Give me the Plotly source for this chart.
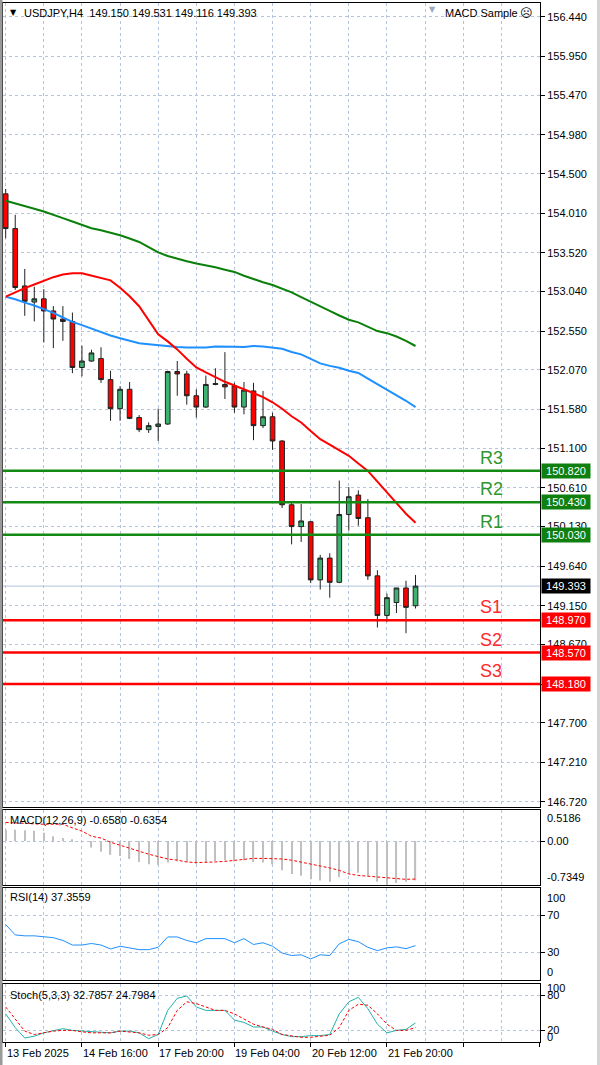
import plotly.graph_objects as go

# ---------------- data ----------------
bars = list(range(44))
opens = [154.25, 153.82, 153.11, 152.91, 152.95, 152.80, 152.70, 152.67, 152.10, 152.18,
         152.21, 151.95, 151.59, 151.83, 151.48, 151.33, 151.37, 151.40, 152.05, 152.02,
         151.75, 151.61, 151.89, 151.89, 151.87, 151.61, 151.81, 151.38, 151.49, 151.19,
         150.40, 150.13, 150.19, 149.47, 149.74, 149.44, 150.28, 150.52, 150.24, 149.52,
         149.03, 149.19, 149.37, 149.150]
highs = [154.31, 153.99, 153.32, 153.10, 153.07, 152.86, 152.86, 152.78, 152.37, 152.32,
         152.35, 152.06, 151.87, 151.92, 151.51, 151.42, 151.59, 152.06, 152.18, 152.06,
         151.83, 152.00, 152.09, 152.29, 151.91, 151.92, 151.91, 151.81, 151.54, 151.20,
         150.44, 150.41, 150.20, 149.78, 149.80, 150.70, 150.62, 150.58, 150.47, 149.59,
         149.30, 149.37, 149.46, 149.531]
lows = [153.70, 153.06, 152.74, 152.67, 152.41, 152.34, 152.43, 152.03, 151.99, 152.17,
        151.91, 151.44, 151.44, 151.46, 151.30, 151.29, 151.19, 151.39, 151.75, 151.64,
        151.48, 151.60, 151.88, 151.71, 151.54, 151.52, 151.20, 151.35, 151.08, 150.36,
        149.91, 149.94, 149.43, 149.35, 149.25, 149.43, 150.08, 150.14, 149.47, 148.88,
        148.95, 149.06, 148.81, 149.116]
closes = [153.82, 153.09, 152.92, 152.95, 152.80, 152.70, 152.67, 152.10, 152.18, 152.28,
          151.95, 151.59, 151.83, 151.47, 151.33, 151.38, 151.40, 152.05, 152.02, 151.75,
          151.61, 151.89, 151.90, 151.86, 151.61, 151.82, 151.38, 151.49, 151.19, 150.40,
          150.13, 150.20, 149.47, 149.74, 149.44, 150.28, 150.50, 150.23, 149.52, 149.03,
          149.25, 149.37, 149.13, 149.393]

ma_green = [154.165, 154.135, 154.101, 154.066, 154.032, 153.995, 153.950, 153.907, 153.861, 153.824,
            153.799, 153.769, 153.738, 153.697, 153.654, 153.590, 153.525, 153.481, 153.444, 153.415,
            153.388, 153.368, 153.341, 153.311, 153.283, 153.236, 153.193, 153.155, 153.122, 153.077,
            153.030, 152.972, 152.912, 152.857, 152.801, 152.744, 152.691, 152.659, 152.609, 152.551,
            152.525, 152.484, 152.430, 152.366]
ma_blue = [152.977, 152.945, 152.903, 152.868, 152.822, 152.776, 152.719, 152.665, 152.624, 152.578,
           152.537, 152.496, 152.463, 152.431, 152.400, 152.389, 152.376, 152.364, 152.354, 152.349,
           152.345, 152.349, 152.361, 152.363, 152.356, 152.355, 152.366, 152.361, 152.343, 152.332,
           152.292, 152.262, 152.207, 152.151, 152.120, 152.096, 152.059, 152.032, 151.961, 151.893,
           151.827, 151.760, 151.688, 151.609]
ma_red = [152.977, 153.033, 153.082, 153.128, 153.175, 153.218, 153.252, 153.266, 153.266, 153.239,
          153.212, 153.179, 153.087, 152.982, 152.859, 152.691, 152.512, 152.423, 152.324, 152.208,
          152.101, 152.039, 151.980, 151.923, 151.877, 151.829, 151.781, 151.734, 151.669, 151.589,
          151.496, 151.419, 151.313, 151.212, 151.144, 151.074, 151.006, 150.911, 150.820, 150.687,
          150.555, 150.425, 150.289, 150.178]

macd_hist = [0.19, 0.19, 0.18, 0.17, 0.14, 0.08, 0.05, 0.03, -0.01, -0.11,
             -0.18, -0.23, -0.25, -0.30, -0.35, -0.39, -0.40, -0.36, -0.34, -0.35,
             -0.38, -0.35, -0.34, -0.32, -0.34, -0.32, -0.35, -0.36, -0.39, -0.49,
             -0.55, -0.58, -0.64, -0.66, -0.68, -0.60, -0.55, -0.53, -0.58, -0.68,
             -0.7349, -0.70, -0.68, -0.658]
macd_signal = [0.31, 0.30, 0.29, 0.285, 0.28, 0.28, 0.28, 0.22, 0.165, 0.08,
               0.05, -0.02, -0.07, -0.13, -0.18, -0.22, -0.26, -0.30, -0.32, -0.35,
               -0.36, -0.36, -0.35, -0.34, -0.32, -0.30, -0.29, -0.29, -0.29, -0.30,
               -0.32, -0.35, -0.38, -0.42, -0.45, -0.49, -0.55, -0.575, -0.59, -0.60,
               -0.62, -0.63, -0.64, -0.6354]
rsi = [60.3, 49.0, 48.0, 48.0, 47.0, 46.0, 43.0, 38.0, 38.0, 39.7,
       38.0, 33.7, 36.7, 35.0, 33.0, 33.0, 35.6, 46.8, 46.8, 43.0,
       40.5, 45.0, 45.0, 45.0, 40.5, 45.0, 38.6, 40.5, 36.7, 29.3,
       26.6, 27.4, 22.9, 27.4, 26.6, 39.3, 44.2, 41.6, 35.6, 31.9,
       34.9, 36.0, 34.1, 37.3559]
stoch_main = [48.5, 24.8, 6.9, 10.0, 15.8, 20.0, 23.0, 20.0, 18.8, 18.8,
              17.6, 15.8, 18.8, 18.8, 15.8, 5.7, 12.9, 54.5, 75.3, 79.4,
              60.4, 54.5, 54.5, 54.5, 37.8, 33.7, 25.9, 25.9, 18.8, 12.9,
              9.3, 9.3, 11.0, 11.0, 12.9, 48.5, 69.3, 77.0, 57.4, 30.7,
              15.8, 20.0, 21.8, 32.7857]
stoch_signal = [60.4, 39.6, 18.8, 12.9, 15.8, 18.8, 20.0, 20.0, 17.6, 15.8,
                15.8, 15.8, 18.8, 17.6, 15.8, 11.7, 12.9, 24.8, 54.5, 69.3,
                66.3, 60.4, 54.5, 54.5, 48.5, 39.6, 30.7, 25.9, 21.8, 12.9,
                10.0, 8.1, 8.1, 10.0, 11.7, 24.8, 54.5, 65.2, 63.4, 48.5,
                30.7, 20.0, 20.0, 24.7984]

price_ticks = [156.440, 155.950, 155.470, 154.980, 154.500, 154.010, 153.520, 153.040,
               152.550, 152.070, 151.580, 151.100, 150.610, 150.130, 149.640, 149.150,
               148.670, 148.180, 147.700, 147.210, 146.720]
resistances = [("R3", 150.820), ("R2", 150.430), ("R1", 150.030)]
supports = [("S1", 148.970), ("S2", 148.570), ("S3", 148.180)]
date_labels = [(0, "13 Feb 2025"), (8, "14 Feb 16:00"), (16, "17 Feb 20:00"),
               (24, "19 Feb 04:00"), (32, "20 Feb 12:00"), (40, "21 Feb 20:00")]
header = "USDJPY,H4  149.150 149.531 149.116 149.393"

# ---------------- figure ----------------
FONT = "Liberation Sans"
GRID = "#b4c4dc"
W, H = 600, 1065
ML, MR, MT, MB = 3, 60, 3, 23
PH = H - MT - MB  # plot height in px


def dom(top_px, bot_px):
    return [(H - MB - bot_px) / PH, (H - MB - top_px) / PH]


def py(px):
    return (H - MB - px) / PH


def pxx(px):
    return (px - ML) / (W - ML - MR)


fig = go.Figure()

fig.add_trace(go.Candlestick(
    x=bars, open=opens, high=highs, low=lows, close=closes,
    increasing=dict(fillcolor="#3cb371", line=dict(color="#202020", width=1)),
    decreasing=dict(fillcolor="#ff0000", line=dict(color="#202020", width=1)),
    whiskerwidth=0, showlegend=False, xaxis="x", yaxis="y", hoverinfo="skip"))

for vals, col in [(ma_green, "#0a800a"), (ma_blue, "#1e90ff"), (ma_red, "#ff0000")]:
    fig.add_trace(go.Scatter(x=bars, y=vals, mode="lines", line=dict(color=col, width=2),
                             showlegend=False, xaxis="x", yaxis="y", hoverinfo="skip"))

# MACD
fig.add_trace(go.Bar(x=bars, y=macd_hist, width=0.13, marker=dict(color="#c0c0c0", line=dict(width=0)),
                     showlegend=False, xaxis="x2", yaxis="y2", hoverinfo="skip"))
fig.add_trace(go.Scatter(x=bars, y=macd_signal, mode="lines",
                         line=dict(color="#ff0000", width=1, dash="3px,2px"),
                         showlegend=False, xaxis="x2", yaxis="y2", hoverinfo="skip"))
# RSI
fig.add_trace(go.Scatter(x=bars, y=rsi, mode="lines", line=dict(color="#1e90ff", width=1),
                         showlegend=False, xaxis="x3", yaxis="y3", hoverinfo="skip"))
# Stoch
fig.add_trace(go.Scatter(x=bars, y=stoch_main, mode="lines", line=dict(color="#20b2aa", width=1),
                         showlegend=False, xaxis="x4", yaxis="y4", hoverinfo="skip"))
fig.add_trace(go.Scatter(x=bars, y=stoch_signal, mode="lines",
                         line=dict(color="#ff0000", width=1, dash="3px,2px"),
                         showlegend=False, xaxis="x4", yaxis="y4", hoverinfo="skip"))

xr = [-0.283, 56.06]
xcommon = dict(range=xr, dtick=8, tick0=0, showgrid=True, gridcolor=GRID, griddash="3px,3px",
               gridwidth=1, showticklabels=False, showline=True, mirror=True, linecolor="#000000",
               linewidth=1, zeroline=False, fixedrange=True,
               minor=dict(dtick=4, tick0=0, showgrid=True, gridcolor=GRID, griddash="3px,3px",
                          gridwidth=1, ticks=""),
               rangeslider=dict(visible=False))
ycommon = dict(side="right", showline=True, mirror=True, linecolor="#000000", linewidth=1,
               ticks="outside", ticklen=4, tickcolor="#000000", gridcolor=GRID,
               griddash="3px,3px", gridwidth=1, zeroline=False, fixedrange=True,
               tickfont=dict(family=FONT, size=11, color="#000000"))

fig.update_layout(
    width=W, height=H, margin=dict(l=ML, r=MR, t=MT, b=MB),
    paper_bgcolor="#ffffff", plot_bgcolor="#ffffff", showlegend=False,
    font=dict(family=FONT, size=11, color="#000000"),
    xaxis=dict(xcommon, domain=[0, 1], anchor="y"),
    xaxis2=dict(xcommon, domain=[0, 1], anchor="y2", matches="x"),
    xaxis3=dict(xcommon, domain=[0, 1], anchor="y3", matches="x"),
    xaxis4=dict(xcommon, domain=[0, 1], anchor="y4", matches="x", ticks="outside",
                ticklen=4, tickcolor="#000000"),
    yaxis=dict(ycommon, domain=dom(3, 807), range=[146.658, 156.613],
               tickvals=price_ticks, ticktext=[f"{v:.3f}" for v in price_ticks], anchor="x"),
    yaxis2=dict(ycommon, domain=dom(810, 885), range=[-0.7349, 0.5186],
                tickvals=[0], ticktext=["0.00"], anchor="x2"),
    yaxis3=dict(ycommon, domain=dom(888, 980), range=[0, 100],
                tickvals=[30, 70], ticktext=["30", "70"], anchor="x3"),
    yaxis4=dict(ycommon, domain=dom(984, 1042), range=[0, 100],
                tickvals=[20, 80], ticktext=["20", "80"], anchor="x4"),
)

shapes = []
# current price line
shapes.append(dict(type="line", xref="x domain", yref="y", x0=0, x1=1,
                   y0=closes[-1], y1=closes[-1], line=dict(color="#b0c4de", width=1), layer="below"))
for name, lvl in resistances:
    shapes.append(dict(type="line", xref="x domain", yref="y", x0=0, x1=1, y0=lvl, y1=lvl,
                       line=dict(color="#138a13", width=2.5)))
for name, lvl in supports:
    shapes.append(dict(type="line", xref="x domain", yref="y", x0=0, x1=1, y0=lvl, y1=lvl,
                       line=dict(color="#ff0000", width=2.5)))
# window edges
shapes.append(dict(type="rect", xref="paper", yref="paper", x0=pxx(0), x1=pxx(2.5), y0=py(1065), y1=py(0),
                   fillcolor="#9a9a9a", line=dict(width=0)))
shapes.append(dict(type="rect", xref="paper", yref="paper", x0=pxx(597), x1=pxx(600), y0=py(1065), y1=py(0),
                   fillcolor="#d4d4d4", line=dict(width=0)))
fig.update_layout(shapes=shapes)

ann = []
# header
ann.append(dict(text="▼", xref="paper", yref="paper", x=pxx(8), y=py(13), xanchor="left", yanchor="middle",
                showarrow=False, font=dict(family="DejaVu Sans", size=8, color="#000000")))
ann.append(dict(text=header, xref="paper", yref="paper", x=pxx(22), y=py(13), xanchor="left",
                yanchor="middle", showarrow=False, font=dict(family=FONT, size=11, color="#000000")))
ann.append(dict(text="MACD Sample", xref="paper", yref="paper", x=pxx(443), y=py(13), xanchor="left",
                yanchor="middle", showarrow=False, font=dict(family=FONT, size=11, color="#000000")))
ann.append(dict(text="☹", xref="paper", yref="paper", x=pxx(526), y=py(13), xanchor="center",
                yanchor="middle", showarrow=False, font=dict(family="DejaVu Sans", size=12, color="#000000")))
ann.append(dict(text="▼", xref="paper", yref="paper", x=pxx(432), y=py(3), xanchor="center", yanchor="top",
                showarrow=False, font=dict(family="DejaVu Sans", size=8, color="#9aa8c0")))
# panel labels
for txt, ypx in [("MACD(12,26,9) -0.6580 -0.6354", 820), ("RSI(14) 37.3559", 897),
                 ("Stoch(5,3,3) 32.7857 24.7984", 995)]:
    ann.append(dict(text=txt, xref="paper", yref="paper", x=pxx(8), y=py(ypx), xanchor="left",
                    yanchor="middle", showarrow=False, font=dict(family=FONT, size=11, color="#000000")))
# extreme scale labels of sub windows
for txt, yref, val, shift in [("0.5186", "y2", 0.5186, -8), ("-0.7349", "y2", -0.7349, 8),
                              ("100", "y3", 100, -10), ("0", "y3", 0, 8),
                              ("100", "y4", 100, -4), ("0", "y4", 0, 5)]:
    ann.append(dict(text=txt, xref="paper", yref=yref, x=1, y=val, xanchor="left", yanchor="middle",
                    xshift=5, yshift=shift, showarrow=False,
                    font=dict(family=FONT, size=11, color="#000000")))
# price boxes and level labels
for group, col, tcol in [(resistances, "#0f800f", "#2f962f"), (supports, "#ff0000", "#ff2a2a")]:
    for name, lvl in group:
        ann.append(dict(text=f"{lvl:.3f}", xref="paper", yref="y", x=1, y=lvl, xanchor="left",
                        yanchor="middle", xshift=1, showarrow=False, bgcolor=col, width=46, height=12,
                        borderpad=1, font=dict(family=FONT, size=11, color="#ffffff")))
        ann.append(dict(text=name, xref="paper", yref="y", x=pxx(491), y=lvl, xanchor="center",
                        yanchor="middle", yshift=13, showarrow=False,
                        font=dict(family=FONT, size=18, color=tcol)))
ann.append(dict(text=f"{closes[-1]:.3f}", xref="paper", yref="y", x=1, y=closes[-1], xanchor="left",
                yanchor="middle", xshift=1, showarrow=False, bgcolor="#000000", width=46, height=12,
                borderpad=1, font=dict(family=FONT, size=11, color="#ffffff")))
# date labels
for i, txt in date_labels:
    ann.append(dict(text=txt, xref="x4", yref="paper", x=i, y=py(1053), xanchor="left", yanchor="middle",
                    xshift=-1, showarrow=False, font=dict(family=FONT, size=11, color="#000000")))
fig.update_layout(annotations=ann)

fig.write_html("out.html", config={"displayModeBar": False},
               post_script="document.body.style.margin='0';document.body.style.padding='0';")
